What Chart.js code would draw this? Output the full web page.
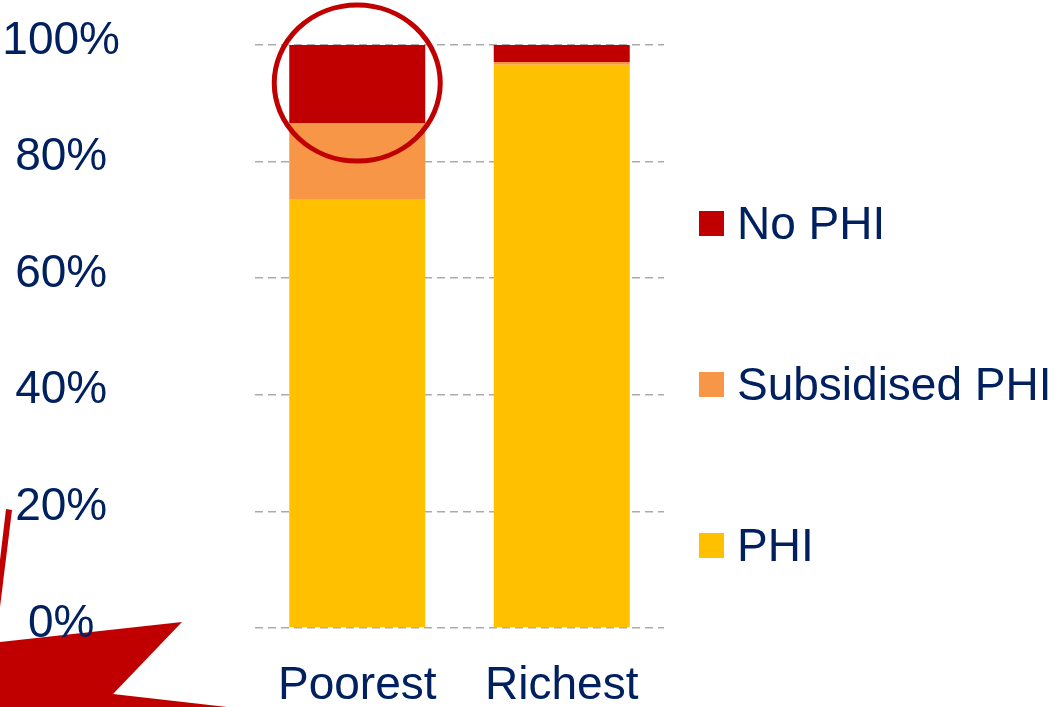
<!DOCTYPE html>
<html>
<head>
<meta charset="utf-8">
<script src="https://cdn.jsdelivr.net/npm/chart.js@4.4.0/dist/chart.umd.min.js"></script>
<style>
  html, body { margin: 0; padding: 0; background: #fff; }
  #wrap { width: 1063px; height: 707px; position: relative; }
</style>
</head>
<body>
<div id="wrap"><canvas id="chart"></canvas></div>
<script>
// data (percent of each group)
const categories = ['Poorest', 'Richest'];
const phi = [73.6, 96.6];
const subsidisedPhi = [13.0, 0.5];
const noPhi = [13.4, 2.9];
const yTicks = [0, 20, 40, 60, 80, 100];

const navy = '#002060';
const fontFamily = '"Liberation Sans", Arial, sans-serif';

// slide decoration: red burst in the bottom left corner, under the chart
const burstPlugin = {
  id: 'burst',
  beforeDraw(chart) {
    const ctx = chart.ctx;
    ctx.save();
    ctx.fillStyle = '#C00000';
    ctx.beginPath();
    ctx.moveTo(0, 642);
    ctx.lineTo(182, 622);
    ctx.lineTo(113, 694);
    ctx.lineTo(227, 707);
    ctx.lineTo(0, 707);
    ctx.closePath();
    ctx.fill();
    ctx.beginPath();
    ctx.moveTo(0, 560);
    ctx.lineTo(6, 509);
    ctx.lineTo(12, 510);
    ctx.lineTo(0, 607);
    ctx.closePath();
    ctx.fill();
    ctx.restore();
  }
};

// red ring around the "No PHI" part of the Poorest bar
const ringPlugin = {
  id: 'ring',
  afterDatasetsDraw(chart) {
    const bar = chart.getDatasetMeta(2).data[0];
    if (!bar) return;
    const ctx = chart.ctx;
    const cx = bar.x;
    const cy = (bar.y + bar.base) / 2 - 1;
    ctx.save();
    ctx.strokeStyle = '#C00000';
    ctx.lineWidth = 5;
    ctx.beginPath();
    ctx.ellipse(cx, cy, 83, 78, 0, 0, Math.PI * 2);
    ctx.stroke();
    ctx.restore();
  }
};

// legend on the right, top to bottom in reverse stack order
const legendPlugin = {
  id: 'sideLegend',
  afterDraw(chart) {
    const ctx = chart.ctx;
    const x = chart.chartArea.right + 35;
    const baselines = [239, 400, 561];
    const sets = chart.data.datasets.slice().reverse();
    ctx.save();
    ctx.font = '46px ' + fontFamily;
    ctx.textBaseline = 'alphabetic';
    ctx.textAlign = 'left';
    sets.forEach((ds, i) => {
      ctx.fillStyle = ds.backgroundColor;
      ctx.fillRect(x, baselines[i] - 28, 25, 25);
      ctx.fillStyle = navy;
      ctx.fillText(ds.label, x + 38, baselines[i]);
    });
    ctx.restore();
  }
};

const ctx = document.getElementById('chart').getContext('2d');
const chart = new Chart(ctx, {
  type: 'bar',
  data: {
    labels: categories,
    datasets: [
      { label: 'PHI', data: phi, backgroundColor: '#FFC000' },
      { label: 'Subsidised PHI', data: subsidisedPhi, backgroundColor: '#F79646' },
      { label: 'No PHI', data: noPhi, backgroundColor: '#C00000' }
    ]
  },
  options: {
    responsive: true,
    maintainAspectRatio: false,
    animation: false,
    barPercentage: 0.665,
    categoryPercentage: 1,
    layout: {
      padding: { left: 0, top: 45, right: 399, bottom: 0 }
    },
    plugins: {
      legend: { display: false },
      tooltip: { enabled: false }
    },
    scales: {
      x: {
        stacked: true,
        grid: { display: false, drawTicks: false },
        border: { display: false },
        afterFit(scale) {
          scale.height = 79;
          scale.paddingLeft = 0;
          scale.paddingRight = 0;
        },
        ticks: {
          color: navy,
          padding: 35,
          maxRotation: 0,
          font: { family: fontFamily, size: 46, lineHeight: 1.0 }
        }
      },
      y: {
        stacked: true,
        min: 0,
        max: 100,
        afterBuildTicks(scale) {
          scale.ticks = yTicks.map(v => ({ value: v }));
        },
        afterFit(scale) {
          // big label padding only meant to push labels sideways
          scale.width = 255;
          scale.paddingTop = 0;
          scale.paddingBottom = 0;
        },
        grid: { color: '#ABABAB', lineWidth: 1.5, drawTicks: false },
        border: { display: false, dash: [8, 5] },
        ticks: {
          color: navy,
          padding: 135,
          crossAlign: 'center',
          labelOffset: -4,
          font: { family: fontFamily, size: 46, lineHeight: 1.0 },
          callback: v => v + '%'
        }
      }
    }
  },
  plugins: [burstPlugin, ringPlugin, legendPlugin]
});
</script>
</body>
</html>
